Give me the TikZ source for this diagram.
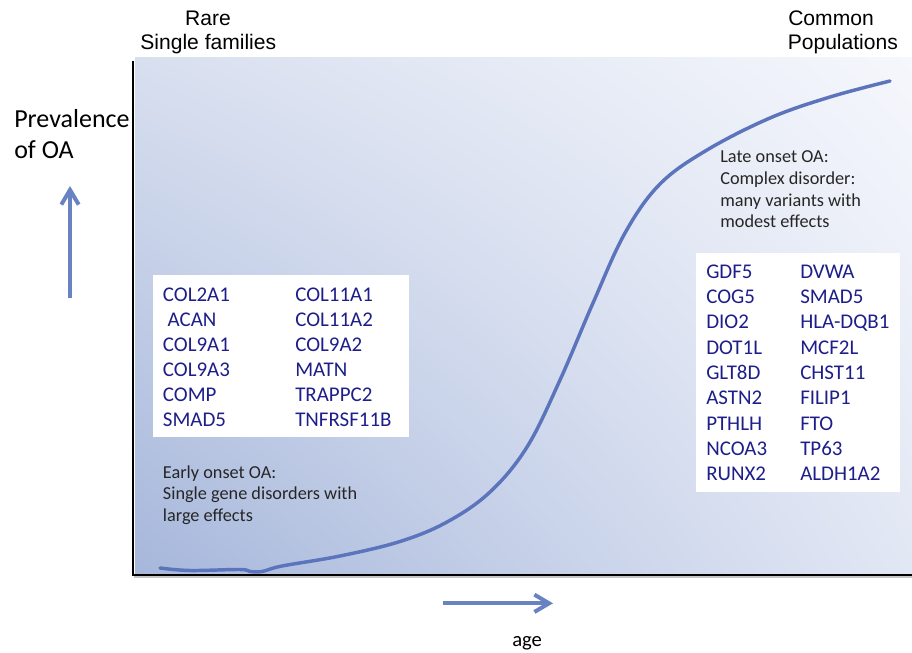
\documentclass[tikz,border=0pt]{standalone}
\usepackage{fontspec}
\setmainfont{Carlito}
\newfontfamily\arialf{Liberation Sans}
\usetikzlibrary{arrows.meta,shadings}
\definecolor{genec}{HTML}{1E1E8A}
\definecolor{curvec}{HTML}{5B74BC}
\definecolor{arrc}{HTML}{6882C2}
\definecolor{gul}{HTML}{D8DFEF}
\definecolor{gur}{HTML}{F5F7FC}
\definecolor{gll}{HTML}{A6B7DB}
\definecolor{glr}{HTML}{E2E7F4}
\tikzset{
  gene/.style={anchor=base west, inner sep=0pt, text=genec, font=\fontsize{15.7}{18}\selectfont},
  note/.style={anchor=base west, inner sep=0pt, text=black!85, font=\fontsize{13.7}{16}\selectfont},
  head/.style={anchor=base, inner sep=0pt, font=\arialf\fontsize{15.8}{18}\selectfont},
  genebox/.style={fill=white, draw=none},
  bluearrow/.style={draw=arrc, line width=3pt, -{Straight Barb[length=11pt,width=13pt]}},
}
\begin{document}
\begin{tikzpicture}[x=0.75pt,y=-0.75pt]
\useasboundingbox (0,0) rectangle (912,652);
% background gradient
\shade[upper left=gul, upper right=gur, lower left=gll, lower right=glr] (135,57.5) rectangle (912,574);
% axes
\draw[gray!45, line width=2pt] (134,577) -- (912,577);
\draw[black, line width=1.5pt] (133,61.5) -- (133,574.5) -- (912,574.5);
% white gene boxes
\node[genebox, minimum width=256.5pt*0.75, minimum height=161.5pt*0.75, anchor=north west] (lbox) at (152.5,275) {};
\node[genebox, minimum width=204pt*0.75, minimum height=238.5pt*0.75, anchor=north west] (rbox) at (696,253) {};
% curve
\draw[curvec, line width=2.6pt, line cap=round] plot[smooth, tension=0.6] coordinates {
 (160,568) (190,570.5) (240,569.5) (250,571.5) (262,571.5) (282,566)
 (340,556) (400,541.5) (447,522) (490,492) (527,447) (560,380) (593,303)
 (625,233) (660,184) (707,150) (770,118) (830,97) (890,81)};
% headers
\node[head] (rare) at (208,26) {Rare};
\node[head] (single) at (208.3,49.5) {Single families};
\node[head, anchor=base west] (common) at (788,26) {Common};
\node[head, anchor=base west] (pop) at (787.5,50) {Populations};
% y label
\node[anchor=base west, inner sep=0pt, font=\fontsize{19.5}{22}\selectfont] (prev) at (14,128) {Prevalence};
\node[anchor=base west, inner sep=0pt, font=\fontsize{19.5}{22}\selectfont] (ofoa) at (14,159) {of OA};
% arrows
\coordinate (ua0) at (70,298);
\coordinate (ua1) at (70,186);
\draw[bluearrow] (ua0) -- (ua1);
\coordinate (ra0) at (443,603.3);
\coordinate (ra1) at (553,603.3);
\draw[bluearrow] (ra0) -- (ra1);
\node[anchor=base west, inner sep=0pt, font=\fontsize{15.5}{18}\selectfont] (age) at (512,646) {age};
% left genes
\foreach \g [count=\i] in {COL2A1,{\ ACAN},COL9A1,COL9A3,COMP,SMAD5}
  \node[gene] (la\i) at (162.7,{301.7+25*(\i-1)}) {\g};
\foreach \g [count=\i] in {COL11A1,COL11A2,COL9A2,MATN,TRAPPC2,TNFRSF11B}
  \node[gene] (lb\i) at (295,{301.7+25*(\i-1)}) {\g};
% right genes
\foreach \g [count=\i] in {GDF5,COG5,DIO2,DOT1L,GLT8D,ASTN2,PTHLH,NCOA3,RUNX2}
  \node[gene] (ra\i) at (706,{278.3+25.3*(\i-1)}) {\g};
\foreach \g [count=\i] in {DVWA,SMAD5,HLA-DQB1,MCF2L,CHST11,FILIP1,FTO,TP63,ALDH1A2}
  \node[gene] (rb\i) at (800,{278.3+25.3*(\i-1)}) {\g};
% notes
\node[note] (e1) at (162.7,478) {Early onset OA:};
\node[note] (e2) at (162.7,499.5) {Single gene disorders with};
\node[note] (e3) at (162.7,521) {large effects};
\node[note] (l1) at (720,162.7) {Late onset OA:};
\node[note] (l2) at (720,184.4) {Complex disorder:};
\node[note] (l3) at (720,206.1) {many variants with};
\node[note] (l4) at (720,227.8) {modest effects};
\end{tikzpicture}
\end{document}
